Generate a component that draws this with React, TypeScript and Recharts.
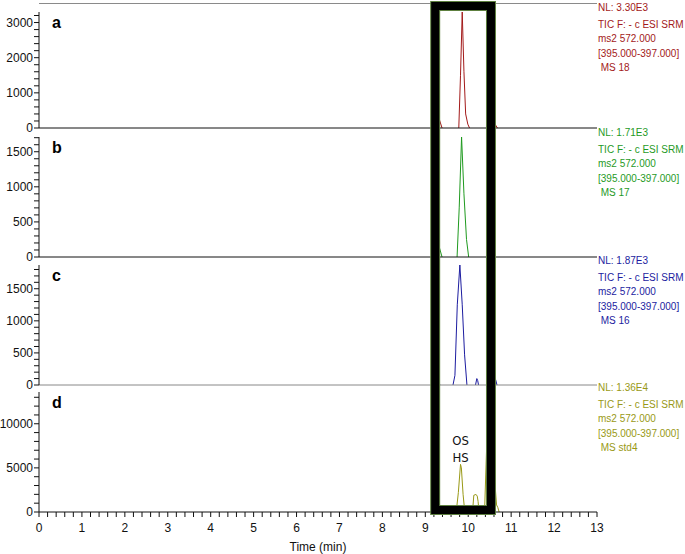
import { LineChart, Line, XAxis, YAxis, ReferenceArea, ReferenceDot, Label } from "recharts";

type Pt = { t: number; v: number | null };

// chromatogram traces (time in min, intensity); null breaks the line
const TRACE_A: Pt[] = [
  { t: 9.28, v: 450 }, { t: 9.33, v: 230 }, { t: 9.39, v: 0 }, { t: 9.5, v: null },
  { t: 9.78, v: 0 }, { t: 9.82, v: 1500 }, { t: 9.86, v: 3300 }, { t: 9.9, v: 1600 },
  { t: 9.94, v: 400 }, { t: 9.99, v: 110 }, { t: 10.03, v: 0 }, { t: 10.3, v: null },
  { t: 10.58, v: 200 }, { t: 10.64, v: 80 }, { t: 10.68, v: 0 },
];
const TRACE_B: Pt[] = [
  { t: 9.28, v: 250 }, { t: 9.33, v: 130 }, { t: 9.39, v: 0 }, { t: 9.5, v: null },
  { t: 9.74, v: 0 }, { t: 9.79, v: 700 }, { t: 9.845, v: 1710 }, { t: 9.9, v: 900 },
  { t: 9.96, v: 250 }, { t: 10.01, v: 0 },
];
const TRACE_C: Pt[] = [
  { t: 9.3, v: 60 }, { t: 9.34, v: 0 }, { t: 9.5, v: null },
  { t: 9.645, v: 0 }, { t: 9.69, v: 150 }, { t: 9.745, v: 1250 }, { t: 9.805, v: 1870 },
  { t: 9.86, v: 1250 }, { t: 9.915, v: 470 }, { t: 9.97, v: 0 }, { t: 10.05, v: null },
  { t: 10.17, v: 0 }, { t: 10.2, v: 100 }, { t: 10.22, v: 70 }, { t: 10.24, v: 0 }, { t: 10.4, v: null },
  { t: 10.6, v: 150 }, { t: 10.64, v: 80 }, { t: 10.67, v: 0 },
];
const TRACE_D: Pt[] = [
  { t: 9.72, v: 0 }, { t: 9.77, v: 2200 }, { t: 9.82, v: 5400 }, { t: 9.84, v: 5000 },
  { t: 9.88, v: 2000 }, { t: 9.92, v: 0 }, { t: 10.0, v: null },
  { t: 10.1, v: 0 }, { t: 10.13, v: 1900 }, { t: 10.16, v: 1950 }, { t: 10.18, v: 2000 },
  { t: 10.21, v: 1800 }, { t: 10.23, v: 1200 }, { t: 10.25, v: 0 }, { t: 10.3, v: null },
  { t: 10.38, v: 0 }, { t: 10.43, v: 7500 }, { t: 10.5, v: 13600 }, { t: 10.58, v: 6000 },
  { t: 10.66, v: 800 }, { t: 10.69, v: 500 }, { t: 10.72, v: 0 },
];

const LETTERS = ["a", "b", "c", "d"];
const NL = ["NL: 3.30E3", "NL: 1.71E3", "NL: 1.87E3", "NL: 1.36E4"];
const NL_MAX = [3300, 1710, 1870, 13600];
const SCAN = ["TIC F: - c ESI SRM", "ms2 572.000", "[395.000-397.000]"];
const MS = [" MS 18", " MS 17", " MS 16", " MS std4"];
const Y_STEP = [200, 100, 100, 1000];
const Y_MAJOR = [1000, 500, 500, 5000];
const TRACES = [TRACE_A, TRACE_B, TRACE_C, TRACE_D];

const X_TICKS = Array.from({ length: 66 }, (_, i) => i / 5);
const BOX = [9.23, 10.53];
const PEAK_LABEL = { t: 9.82, v: 5400, lines: ["OS", "HS"] };

const COLORS = ["#a31a1a", "#1f9a1f", "#1c1ca0", "#999916"];
const AXIS_COLORS = ["#111", "#111", "#888", "#111"];
const FONT = "'Liberation Sans', Arial, sans-serif";

// layout: chart top, chart height, margin top, x-axis height
const LAYOUT = [
  { top: 0, h: 129, mt: 12, ax: 1 },
  { top: 129, h: 129, mt: 8, ax: 1 },
  { top: 258, h: 128, mt: 7, ax: 1 },
  { top: 386, h: 168, mt: 6, ax: 42 },
];

const isInt = (v: number) => Math.abs(v - Math.round(v)) < 1e-6;

function boxShape(idx: number, extTop: number, extBottom: number) {
  return (props: any) => {
    const { x, y, width, height } = props;
    const l = x;
    const r = x + width;
    const t = idx === 0 ? y - 6 : y - extTop;
    const b = idx === 3 ? y + height - 2 : y + height + extBottom;
    let d = `M${l},${t} L${l},${b} M${r},${t} L${r},${b}`;
    if (idx === 0) d = `M${l},${b} L${l},${t} L${r},${t} L${r},${b}`;
    if (idx === 3) d = `M${l},${t} L${l},${b} L${r},${b} L${r},${t}`;
    return (
      <g>
        <path d={d} fill="none" stroke="#5e8040" strokeWidth={10} />
        <path d={d} fill="none" stroke="#000" strokeWidth={8} />
      </g>
    );
  };
}

function Panel({ idx }: { idx: number }) {
  const lay = LAYOUT[idx];
  const max = NL_MAX[idx];
  const yTicks = Array.from({ length: Math.floor(max / Y_STEP[idx]) + 1 }, (_, i) => i * Y_STEP[idx]);
  const last = idx === 3;
  return (
    <div style={{ position: "absolute", left: 0, top: lay.top, width: 685, height: lay.h }}>
      <LineChart
        width={685}
        height={lay.h}
        data={TRACES[idx]}
        margin={{ top: lay.mt, right: 88, bottom: 0, left: 0 }}
      >
        <XAxis
          dataKey="t"
          type="number"
          domain={[0, 13]}
          ticks={X_TICKS}
          interval={0}
          height={lay.ax}
          tick={last ? { fill: "#111", fontSize: 12, fontFamily: FONT } : false}
          tickLine={last ? { stroke: "#111" } : false}
          tickSize={5}
          tickMargin={6}
          tickFormatter={(v: number) => (isInt(v) ? String(Math.round(v)) : "")}
          axisLine={{ stroke: AXIS_COLORS[idx] }}
        >
          {last && (
            <Label value="Time (min)" position="insideBottom" offset={3} fill="#111" fontSize={12} fontFamily={FONT} />
          )}
        </XAxis>
        <YAxis
          type="number"
          domain={[0, max]}
          ticks={yTicks}
          interval={0}
          width={39}
          tickSize={5}
          tickMargin={1}
          tick={{ fill: "#111", fontSize: 12, fontFamily: FONT }}
          tickLine={{ stroke: "#111" }}
          axisLine={{ stroke: "#111" }}
          tickFormatter={(v: number) => (v % Y_MAJOR[idx] === 0 ? String(v) : "")}
        />
        <Line
          dataKey="v"
          type="linear"
          stroke={COLORS[idx]}
          strokeWidth={1}
          dot={false}
          activeDot={false}
          connectNulls={false}
          isAnimationActive={false}
          zIndex={300}
        />
        {last && (
          <ReferenceDot x={PEAK_LABEL.t} y={PEAK_LABEL.v} r={0} ifOverflow="visible">
            <Label
              content={(p: any) => {
                const vb = p.viewBox || {};
                const cx = (vb.x ?? 0) + (vb.width ?? 0) / 2;
                const cy = vb.y ?? 0;
                return (
                  <text textAnchor="middle" fontSize={13} fontFamily="'Liberation Sans Narrow', 'DejaVu Sans Condensed', sans-serif" fill="#111">
                    <tspan x={cx} y={cy - 19}>{PEAK_LABEL.lines[0]}</tspan>
                    <tspan x={cx} y={cy - 2}>{PEAK_LABEL.lines[1]}</tspan>
                  </text>
                );
              }}
            />
          </ReferenceDot>
        )}
        <ReferenceArea
          x1={BOX[0]}
          x2={BOX[1]}
          ifOverflow="visible"
          zIndex={1000}
          shape={boxShape(idx, lay.mt, lay.ax)}
        />
      </LineChart>
      <div
        style={{
          position: "absolute",
          left: 52,
          top: lay.mt + 3,
          fontSize: 16,
          lineHeight: "16px",
          fontWeight: "bold",
          fontFamily: FONT,
          color: "#000",
        }}
      >
        {LETTERS[idx]}
      </div>
      <div
        style={{
          position: "absolute",
          left: 598,
          top: lay.mt - 11,
          fontSize: 10,
          lineHeight: "14.5px",
          fontFamily: FONT,
          color: COLORS[idx],
          whiteSpace: "pre",
        }}
      >
        <div style={{ marginBottom: 2 }}>{NL[idx]}</div>
        {SCAN.map((s) => (
          <div key={s}>{s}</div>
        ))}
        <div>{MS[idx]}</div>
      </div>
    </div>
  );
}

export default function App() {
  return (
    <div style={{ position: "absolute", left: 0, top: 0, width: 685, height: 554, background: "#fff", fontFamily: FONT }}>
      <style>{`.recharts-surface { overflow: visible; }`}</style>
      <div style={{ position: "absolute", left: 39, top: 3, width: 558, borderTop: "1px solid #8a8a8a" }} />
      {LETTERS.map((_, i) => (
        <Panel key={i} idx={i} />
      ))}
    </div>
  );
}
